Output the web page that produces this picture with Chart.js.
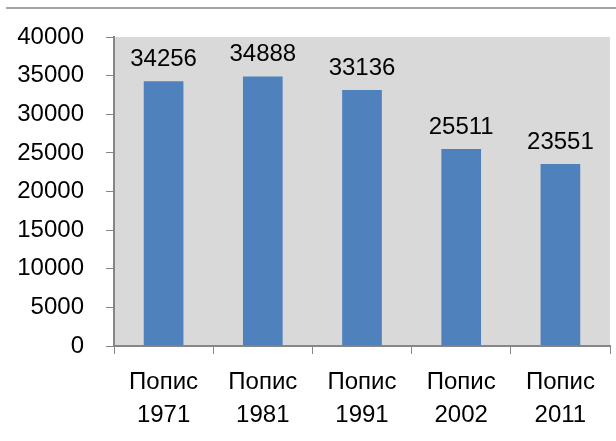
<!DOCTYPE html>
<html>
<head>
<meta charset="utf-8">
<script src="https://cdn.jsdelivr.net/npm/chart.js@4"></script>
<style>
  html, body { margin: 0; padding: 0; background: #fff; }
  .top-rule { position: absolute; left: 6px; right: 0; top: 7px; height: 0; border-top: 2px solid #a6a6a6; }
  .wrap { position: absolute; left: 0; top: 0; width: 616px; height: 441px; }
</style>
</head>
<body>
<div class="top-rule"></div>
<div class="wrap"><canvas id="censusChart" width="616" height="441"></canvas></div>
<script>
const categories = [["Попис", "1971"], ["Попис", "1981"], ["Попис", "1991"], ["Попис", "2002"], ["Попис", "2011"]];
const population = [34256, 34888, 33136, 25511, 23551];
const yTicks = [0, 5000, 10000, 15000, 20000, 25000, 30000, 35000, 40000];

const FONT = "'Liberation Sans', Arial, sans-serif";

// gray plot area + value labels over the bars
const plotBackground = {
  id: "plotBackground",
  beforeDraw(chart) {
    const { ctx, chartArea } = chart;
    ctx.save();
    ctx.fillStyle = "#d9d9d9";
    ctx.fillRect(chartArea.left, chartArea.top, chartArea.right - chartArea.left, chartArea.bottom - chartArea.top);
    ctx.restore();
  },
};

const valueLabels = {
  id: "valueLabels",
  afterDatasetsDraw(chart) {
    const { ctx } = chart;
    const meta = chart.getDatasetMeta(0);
    ctx.save();
    ctx.fillStyle = "#000";
    ctx.font = "24px " + FONT;
    ctx.textAlign = "center";
    ctx.textBaseline = "middle";
    meta.data.forEach((bar, i) => {
      ctx.fillText(String(population[i]), bar.x, bar.y - 22);
    });
    ctx.restore();
  },
};

const ctx = document.getElementById("censusChart").getContext("2d");
new Chart(ctx, {
  type: "bar",
  data: {
    labels: categories,
    datasets: [
      {
        data: population,
        backgroundColor: "#4f81bd",
        borderWidth: 0,
        categoryPercentage: 1,
        barPercentage: 0.4,
      },
    ],
  },
  options: {
    responsive: false,
    animation: false,
    layout: { padding: { left: 0, right: 6, top: 37, bottom: 0 } },
    plugins: {
      legend: { display: false },
      tooltip: { enabled: false },
    },
    scales: {
      x: {
        afterFit: (scale) => { scale.height = 95; },
        grid: {
          display: true,
          offset: true,
          drawOnChartArea: false,
          drawTicks: true,
          tickLength: 8,
          color: "#868686",
        },
        border: { display: true, color: "#868686", width: 2 },
        ticks: {
          color: "#000",
          padding: 12,
          font: { family: FONT, size: 24, lineHeight: 1.38 },
          maxRotation: 0,
          autoSkip: false,
        },
      },
      y: {
        min: 0,
        max: 40000,
        afterFit: (scale) => { scale.width = 114; },
        afterBuildTicks: (scale) => { scale.ticks = yTicks.map((v) => ({ value: v })); },
        grid: {
          display: true,
          drawOnChartArea: false,
          drawTicks: true,
          tickLength: 8,
          color: "#868686",
        },
        border: { display: true, color: "#868686", width: 2 },
        ticks: {
          color: "#000",
          padding: 22,
          font: { family: FONT, size: 24 },
          callback: (value) => String(value),
        },
      },
    },
  },
  plugins: [plotBackground, valueLabels],
});
</script>
</body>
</html>
